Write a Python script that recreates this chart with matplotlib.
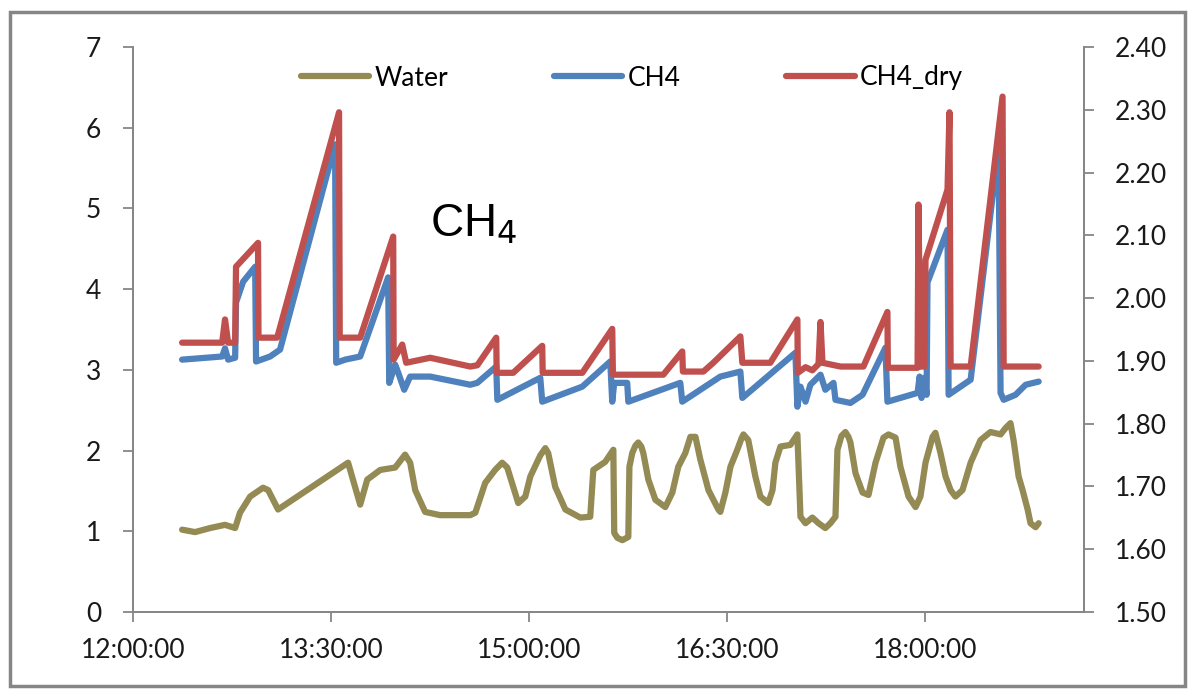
import numpy as np
import matplotlib
matplotlib.use("Agg")
import matplotlib.pyplot as plt
from matplotlib.ticker import FuncFormatter, FixedLocator
from matplotlib.patches import Rectangle

# time in minutes after 12:00:00
water_t = [22.3, 28.2, 35.0, 41.8, 46.4, 48.6, 53.2, 59.1, 61.4, 65.9, 97.7, 103.2, 106.4,
           112.3, 119.1, 123.6, 125.9, 128.2, 132.7, 139.5, 153.2, 155.5, 160.0, 164.5,
           167.7, 170.0, 175.0, 178.2, 180.5, 185.0, 187.3, 188.6, 191.8, 196.4, 203.2, 207.7,
           209.1, 214.5, 218.2, 218.6, 220.0, 222.3, 225.0, 225.5, 226.8, 228.2, 229.5, 230.9,
           231.8, 234.1, 237.3, 241.8, 245.0, 247.7, 250.9, 253.2, 255.5, 257.7, 261.4, 265.9,
           266.8, 269.1, 271.4, 274.5, 276.4, 277.3, 279.5, 282.7, 285.0, 288.6, 290.5, 291.8,
           294.1, 298.6, 301.8, 303.2, 305.5, 308.6, 311.4, 314.5, 316.8, 319.1, 320.0,
           321.8, 323.6, 325.0, 325.9, 328.2, 331.4, 334.1, 337.3, 340.9, 343.2, 346.4, 348.6,
           352.3, 355.5, 357.7, 360.0, 363.2, 364.5, 366.8, 369.1, 371.4, 373.6, 376.8, 380.5,
           385.0, 389.5, 394.1, 396.4, 398.6, 400.0, 402.3, 404.1, 406.4, 407.7, 410.0, 411.4]
water = [1.02, 0.99, 1.04, 1.08, 1.04, 1.23, 1.43, 1.54, 1.51, 1.27, 1.85, 1.33, 1.64,
         1.76, 1.79, 1.95, 1.85, 1.51, 1.24, 1.20, 1.20, 1.23, 1.60, 1.76,
         1.85, 1.79, 1.35, 1.43, 1.68, 1.94, 2.03, 1.97, 1.55, 1.27, 1.17, 1.18,
         1.76, 1.86, 2.01, 0.98, 0.92, 0.89, 0.93, 1.80, 1.97, 2.06, 2.10, 2.05,
         1.97, 1.64, 1.39, 1.30, 1.48, 1.80, 1.97, 2.17, 2.17, 1.89, 1.51, 1.27,
         1.24, 1.48, 1.80, 2.01, 2.15, 2.20, 2.13, 1.68, 1.43, 1.35, 1.51, 1.85,
         2.05, 2.07, 2.20, 1.18, 1.10, 1.17, 1.10, 1.04, 1.10, 1.18, 2.01,
         2.18, 2.23, 2.17, 2.10, 1.72, 1.48, 1.45, 1.85, 2.16, 2.20, 2.16, 1.80,
         1.43, 1.30, 1.43, 1.85, 2.17, 2.22, 1.97, 1.68, 1.51, 1.43, 1.51, 1.85,
         2.13, 2.23, 2.20, 2.28, 2.34, 2.13, 1.68, 1.51, 1.27, 1.10, 1.05, 1.10]

ch4_t = [22.3, 40.5, 41.8, 43.2, 46.4, 46.8, 50.0, 55.5, 55.9, 62.3, 66.8, 91.8, 92.3,
         96.4, 103.2, 115.9, 116.4, 119.1, 120.5, 123.2, 125.9, 135.0, 153.2, 156.4,
         165.0, 165.5, 185.0, 185.9, 204.1, 216.8, 217.7, 218.6, 224.5, 225.0, 248.6,
         249.5, 266.8, 275.9, 276.8, 300.9, 301.8, 303.2, 305.5, 307.7, 312.3, 314.5,
         318.2, 319.1, 325.9, 331.4, 341.8, 342.7, 356.4, 357.3, 358.2, 359.5, 360.5,
         360.9, 370.0, 370.5, 380.5, 393.2, 394.1, 395.5, 400.9, 405.5, 411.4]
ch4 = [1.902, 1.907, 1.920, 1.902, 1.905, 1.993, 2.026, 2.050, 1.899, 1.907, 1.918, 2.245, 1.897,
       1.902, 1.907, 2.033, 1.865, 1.894, 1.881, 1.854, 1.875, 1.875, 1.862, 1.865,
       1.891, 1.838, 1.873, 1.835, 1.859, 1.899, 1.835, 1.865, 1.865, 1.835, 1.865,
       1.835, 1.875, 1.883, 1.841, 1.913, 1.827, 1.859, 1.835, 1.862, 1.878, 1.854,
       1.865, 1.838, 1.833, 1.846, 1.921, 1.835, 1.849, 1.875, 1.841, 1.873, 1.846,
       2.025, 2.109, 1.846, 1.870, 2.242, 1.849, 1.838, 1.846, 1.862, 1.867]

dry_t = [22.3, 40.5, 41.8, 43.2, 46.4, 46.8, 56.8, 57.0, 65.5, 93.6, 93.9, 103.2, 118.2,
         118.4, 122.3, 124.1, 135.0, 153.2, 156.4, 165.0, 165.2, 172.7, 185.9, 186.1,
         204.1, 217.7, 218.0, 240.9, 249.5, 249.8, 259.1, 263.6, 275.9, 276.8, 289.5,
         301.8, 302.0, 305.5, 308.6, 311.4, 312.3, 313.2, 321.4, 331.8, 342.7, 342.9,
         356.4, 356.8, 357.7, 359.5, 360.0, 370.0, 370.9, 371.4, 380.5, 395.0, 395.5, 411.4]
ch4_dry = [1.929, 1.929, 1.966, 1.929, 1.929, 2.050, 2.088, 1.937, 1.937, 2.296, 1.937, 1.937, 2.098,
           1.902, 1.926, 1.897, 1.905, 1.891, 1.893, 1.937, 1.881, 1.881, 1.924, 1.881,
           1.881, 1.951, 1.878, 1.878, 1.915, 1.883, 1.883, 1.897, 1.939, 1.897, 1.897,
           1.966, 1.881, 1.890, 1.885, 1.895, 1.962, 1.897, 1.891, 1.891, 1.978, 1.889,
           1.889, 2.149, 1.891, 1.891, 2.061, 2.173, 2.296, 1.891, 1.891, 2.321, 1.891, 1.891]


def to_day(t):
    # minutes after noon -> fraction of a day (Excel style)
    return 0.5 + np.asarray(t) / 1440.0


def fmt_time(x, pos):
    secs = int(round(x * 86400))
    return '{:d}:{:02d}:{:02d}'.format(secs // 3600, (secs % 3600) // 60, secs % 60)


plt.rcParams['font.family'] = ['Lato', 'DejaVu Sans']
grey = '#868686'

fig = plt.figure(figsize=(11.93, 6.92), dpi=100)
fig.set_facecolor('white')
ax = fig.add_axes([133 / 1193, 80 / 692, (1084 - 133) / 1193, (612 - 47) / 692])
ax2 = ax.twinx()

style = dict(lw=4.5, solid_capstyle='round', solid_joinstyle='round')
l1, = ax.plot(to_day(water_t), water, color='#948A54', label='Water', **style)
l2, = ax2.plot(to_day(ch4_t), ch4, color='#4F81BD', label='CH4', **style)
l3, = ax2.plot(to_day(dry_t), ch4_dry, color='#C0504D', label='CH4_dry', **style)

ax.set_xlim(0.5, 0.8)
ax.set_ylim(0, 7)
ax2.set_ylim(1.5, 2.4)
ax.xaxis.set_major_locator(FixedLocator([0.5, 0.5625, 0.625, 0.6875, 0.75]))
ax.xaxis.set_major_formatter(FuncFormatter(fmt_time))
ax.set_yticks(range(0, 8))
ax2.set_yticks(np.arange(1.5, 2.41, 0.1))
ax2.yaxis.set_major_formatter(FuncFormatter(lambda v, p: '{:.2f}'.format(v)))

for a in (ax, ax2):
    a.spines['top'].set_visible(False)
    for side in ('left', 'right', 'bottom'):
        a.spines[side].set_color(grey)
        a.spines[side].set_linewidth(1.3)
    a.tick_params(direction='out', length=7, width=1.3, color=grey,
                  labelsize=19, labelcolor='#1a1a1a')
ax.tick_params(axis='y', pad=16)
ax.tick_params(axis='x', pad=12)
ax2.tick_params(axis='y', pad=15)
ax.patch.set_visible(False)

fig.text(430 / 1193, 1 - 225 / 692, 'CH$_4$', fontsize=33, family='Liberation Sans',
         va='center', ha='left', color='black')

fig.legend([l1, l2, l3], ['Water', 'CH4', 'CH4_dry'], ncol=3, frameon=False,
           loc='center', bbox_to_anchor=(632 / 1193, 1 - 78 / 692), fontsize=19,
           handlelength=2.6, handletextpad=0.2, columnspacing=4.0)

fig.patches.append(Rectangle((10 / 1193, 6 / 692), 1175 / 1193, 674 / 692,
                             transform=fig.transFigure, fill=False,
                             edgecolor=grey, lw=2.5))

fig.savefig('out.png', dpi=100, facecolor='white')
